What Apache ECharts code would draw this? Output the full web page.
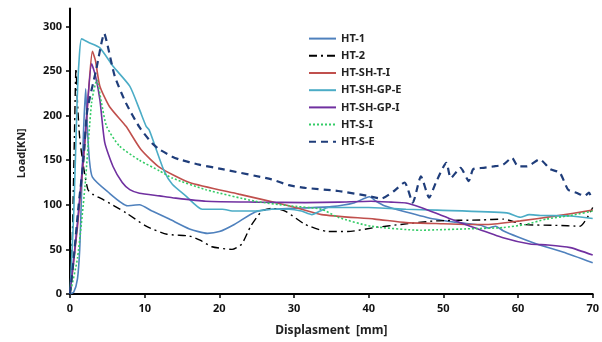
<!DOCTYPE html>
<html>
<head>
<meta charset="utf-8">
<script src="https://cdn.jsdelivr.net/npm/echarts@6/dist/echarts.min.js"></script>
<style>html,body{margin:0;padding:0;background:#fff}#c{width:602px;height:342px}</style>
</head>
<body>
<div id="c"></div>
<script>
var seriesNames = ['HT-1','HT-2','HT-SH-T-I','HT-SH-GP-E','HT-SH-GP-I','HT-S-I','HT-S-E'];
var xTicks = [0,10,20,30,40,50,60,70];
var yTicks = [0,50,100,150,200,250,300];

var ht1 = [[0,0],[0.5,2],[1.0,17],[1.3,50],[1.5,100],[1.8,180],[2.1,230],[2.3,190],[2.6,150],[3.0,131],[5,115],[7.7,99],[9.3,100],[11,93],[13.3,84],[16,73],[18.4,68],[20,70],[22,78],[24.8,92],[27,95],[30,96],[35,98],[38,102],[40.1,109],[41,104],[42.1,99],[45,92],[48.8,84],[52,80],[55,77],[56,74],[57,76],[58,71],[60,64],[62.9,55],[66,47],[70,35]];
var ht2 = [[0,0],[0.3,60],[0.6,180],[0.8,253],[1.0,215],[1.3,175],[1.8,143],[2.4,117],[3,112],[4.4,106],[7.5,91],[10.2,76],[13,67],[16,65],[17.5,60],[19,53],[21.7,50],[23,56],[24.2,76],[25.7,93],[27,96],[28.8,93],[31.5,78],[34.6,70],[37.2,70],[40.8,74.5],[44.3,78],[49,82],[55,83],[58,84],[60.7,78],[65,77],[68.3,76],[70,97]];
var htShTI = [[0,0],[1,75],[2,170],[2.6,240],[3.0,272],[3.4,262],[4.0,233],[5.3,210],[7.5,188],[9.5,162],[12,142],[16,125],[22.6,112],[29.3,99],[33.7,89],[40.8,84],[45,80],[49,79],[53,78],[56,78],[60.3,82],[64.7,87],[70,94]];
var htShGpE = [[0,0],[0.5,90],[0.97,220],[1.2,260],[1.55,286],[2.5,282],[4,276],[5.8,255],[8,233],[9.3,207],[10.2,188],[10.6,184],[11.3,168],[12.6,138],[13.7,123],[15.5,110],[17.7,95],[20.4,95],[22,93],[24.8,93],[27,95],[29.3,95],[31,93],[32.4,89],[33.5,93],[34.6,97],[40,97],[45,95],[49.2,94],[58.5,91],[60.3,86],[61.5,89],[63,88],[67,87.5],[70,84.6]];
var htShGpI = [[0,0],[1,80],[2,175],[2.9,258],[3.4,245],[4,218],[4.65,170],[5.76,143],[7,125],[8,117],[9.3,113],[12,110],[13.7,108],[18.2,104],[25,103],[31.5,102.5],[36,103],[40.3,104],[43,103],[45,102],[47,97],[49.2,90],[51,84],[53.6,76],[58,63],[61.6,56],[64,55],[67,52],[70,43.6]];
var htSI = [[0,0],[1,40],[2,120],[2.9,215],[3.6,240],[4.2,215],[4.9,188],[6.6,166],[9.3,150],[12,138],[13.7,130],[18.2,117],[24.8,104],[29.3,99],[33.7,95],[35.9,86],[40.3,76],[47,71.5],[49.2,72],[53,73],[58,74.5],[61,78],[63.8,84],[67,88],[70,93]];
var htSE = [[0,0],[0.5,40],[1.1,95],[1.8,150],[2.3,205],[3.5,251],[4.6,292],[5,280],[6,244],[7.5,214],[9.3,187],[11,169],[12,162],[13.7,154],[14.6,151],[17.3,145],[20.4,140],[27,128.5],[29.3,122],[31.5,119],[35.9,115.5],[39.9,110],[41.7,107],[43.4,115.5],[44.8,125],[45.9,102.5],[47,132],[48.1,108],[49,125],[50.4,147],[51,130],[52.3,141.5],[53.4,126.6],[54,140],[55.4,141.5],[56.7,143],[58,145],[59.2,152.7],[60,143],[61.2,143],[62.9,151],[64.3,140],[65.6,136],[66.7,117],[67.8,113.6],[68.9,110],[69.5,113.6],[69.8,108]];

var seriesData = [ht1, ht2, htShTI, htShGpE, htShGpI, htSI, htSE];
var styles = [
  {color:'#4F81BD', width:1.6, type:'solid'},
  {color:'#000000', width:1.4, type:[8,4,2,4]},
  {color:'#C0504D', width:1.6, type:'solid'},
  {color:'#4BACC6', width:1.6, type:'solid'},
  {color:'#7030A0', width:1.6, type:'solid'},
  {color:'#33CC66', width:1.6, type:[2,2]},
  {color:'#1F3D7A', width:2.2, type:[7,5]}
];

var chart = echarts.init(document.getElementById('c'), null, {renderer:'canvas'});
var font = 'Noto Sans';
chart.setOption({
  backgroundColor:'#ffffff',
  animation:false,
  grid:{left:70, right:5.5, top:8.6, bottom:47},
  legend:{
    orient:'vertical', left:303, top:28, itemWidth:27, itemHeight:14, itemGap:6,
    itemStyle:{opacity:0, borderWidth:0},
    textStyle:{fontFamily:font, fontWeight:'bold', fontSize:11, color:'#222'},
    data: seriesNames
  },
  xAxis:{
    type:'value', min:0, max:70, interval:10,
    name:'Displasment  [mm]', nameLocation:'middle', nameGap:31,
    nameTextStyle:{fontFamily:font, fontWeight:'bold', fontSize:12, color:'#222'},
    axisLine:{lineStyle:{color:'#000', width:2}},
    axisTick:{show:true, length:4, lineStyle:{color:'#000', width:1.5}},
    axisLabel:{fontFamily:font, fontWeight:'bold', fontSize:11, color:'#111', margin:9},
    splitLine:{show:false}
  },
  yAxis:{
    type:'value', min:0, max:320,
    name:'Load[KN]', nameLocation:'middle', nameGap:43, nameRotate:90,
    nameTextStyle:{fontFamily:font, fontWeight:'bold', fontSize:11, color:'#222', padding:[0,0,0,-4]},
    axisLine:{show:true, lineStyle:{color:'#000', width:2}},
    axisTick:{show:true, length:4, customValues:yTicks, lineStyle:{color:'#000', width:1.5}},
    axisLabel:{fontFamily:font, fontWeight:'bold', fontSize:11, color:'#111', margin:8, customValues:yTicks},
    splitLine:{show:false}
  },
  series: seriesNames.map(function(n,i){
    return {
      name:n, type:'line', data:seriesData[i], symbol:'none', showSymbol:false,
      smooth:0.2, color:styles[i].color,
      lineStyle:{color:styles[i].color, width:styles[i].width, type:styles[i].type}
    };
  })
});
</script>
</body>
</html>
